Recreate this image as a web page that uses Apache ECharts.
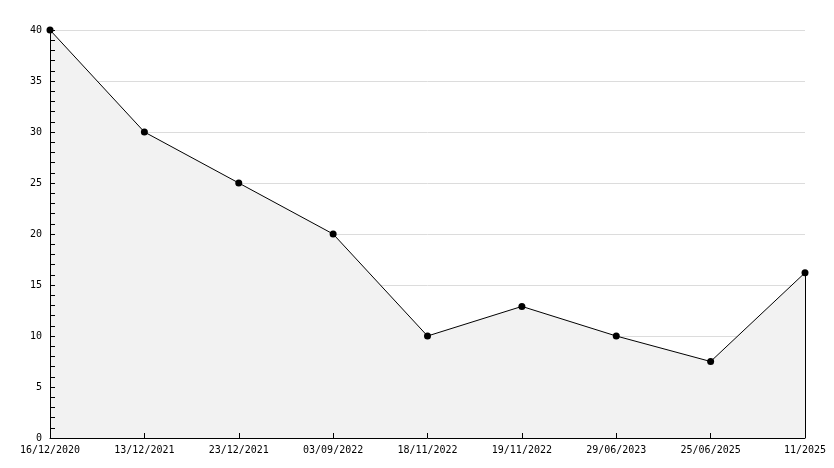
<!DOCTYPE html>
<html><head><meta charset="utf-8">
<script src="https://cdn.jsdelivr.net/npm/echarts@6/dist/echarts.min.js"></script>
<style>html,body{margin:0;padding:0;background:#fff}#c{width:834px;height:468px}</style>
</head><body><div id="c"></div>
<script>
const categories = ['16/12/2020','13/12/2021','23/12/2021','03/09/2022','18/11/2022','19/11/2022','29/06/2023','25/06/2025','11/2025'];
const values = [40, 30, 25, 20, 10, 12.9, 10, 7.5, 16.2];
const yTicks = {min: 0, max: 40, interval: 5};
const lastCat = categories[categories.length - 1];
const lastVal = values[values.length - 1];

const font = '"DejaVu Sans Mono", monospace';
const chart = echarts.init(document.getElementById('c'));
chart.setOption({
  animation: false,
  backgroundColor: '#fff',
  grid: {left: 50, right: 29, top: 30, bottom: 30, containLabel: false},
  xAxis: {
    type: 'category', data: categories, boundaryGap: false, z: 10,
    axisLine: {lineStyle: {color: '#000', width: 1}},
    axisTick: {show: true, inside: true, length: 5, alignWithLabel: true, interval: 0, lineStyle: {color: '#000', width: 1}},
    axisLabel: {color: '#000', fontFamily: font, fontSize: 10, margin: 7, interval: 0},
    splitLine: {show: false}
  },
  yAxis: [{
    type: 'value', min: yTicks.min, max: yTicks.max, interval: yTicks.interval, z: 0,
    axisLine: {show: false}, axisTick: {show: false}, axisLabel: {show: false},
    splitLine: {show: true, lineStyle: {color: '#dcdcdc', width: 1}}
  }, {
    type: 'value', position: 'left', min: yTicks.min, max: yTicks.max, interval: yTicks.interval, z: 10,
    axisLine: {show: true, lineStyle: {color: '#000', width: 1}},
    axisTick: {show: true, inside: true, length: 5, lineStyle: {color: '#000'}},
    minorTick: {show: true, splitNumber: 5, length: 5, lineStyle: {color: '#000'}},
    axisLabel: {color: '#000', fontFamily: font, fontSize: 10, margin: 8},
    splitLine: {show: false}
  }],
  series: [{
    type: 'line', data: values, z: 3, yAxisIndex: 0,
    symbol: 'circle', symbolSize: 7,
    itemStyle: {color: '#000'},
    lineStyle: {color: '#000', width: 1},
    areaStyle: {color: '#f2f2f2', opacity: 1},
    markLine: {
      silent: true, symbol: 'none', label: {show: false},
      lineStyle: {color: '#000', width: 1, type: 'solid'},
      data: [[{coord: [lastCat, 0]}, {coord: [lastCat, lastVal]}]]
    }
  }]
});
</script></body></html>
